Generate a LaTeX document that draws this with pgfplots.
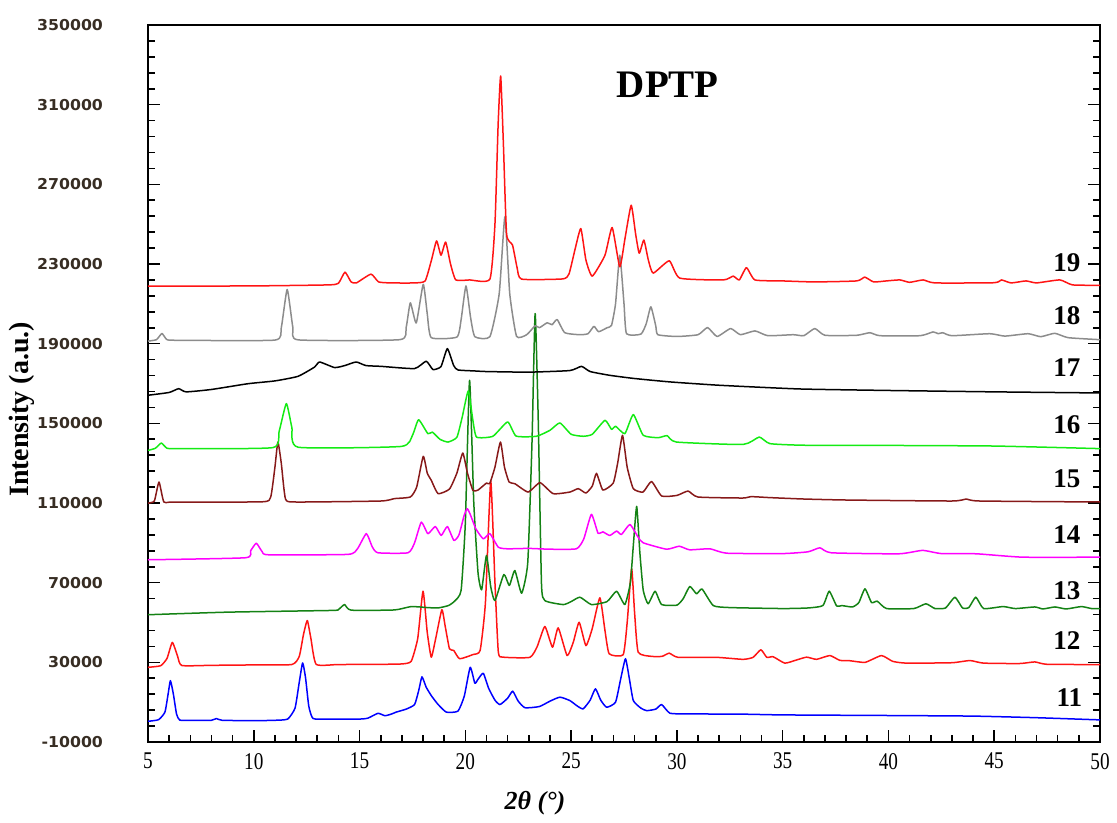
\documentclass[border=0pt]{standalone}
\usepackage{fontspec}
\setmainfont{Liberation Serif}
\newfontfamily\ytfont[FakeStretch=1.05]{DejaVu Sans}
\newfontfamily\xtfont[FakeStretch=0.8]{Liberation Serif}
\usepackage{pgfplots}
\pgfplotsset{compat=1.18}

\definecolor{cRed}{RGB}{255,20,20}
\definecolor{cGray}{RGB}{140,140,140}
\definecolor{cLime}{RGB}{20,235,20}
\definecolor{cBrown}{RGB}{135,25,25}
\definecolor{cMag}{RGB}{255,0,255}
\definecolor{cDkGreen}{RGB}{20,130,20}
\definecolor{cBlue}{RGB}{0,0,255}
\definecolor{tickcol}{RGB}{55,45,35}

\begin{document}
\begin{tikzpicture}
\useasboundingbox (-74pt,-40.5pt) rectangle (484.5pt,371pt);
\begin{axis}[
  at={(0,0)}, anchor=south west,
  scale only axis, width=476pt, height=358.5pt,
  xmin=5, xmax=50, ymin=-10000, ymax=350000,
  xtick={5,10,...,50}, minor x tick num=4,
  ytick={-10000,30000,...,350000}, minor y tick num=4,
  xtick pos=bottom, ytick pos=both,
  tick align=inside,
  major tick length=6pt, minor tick length=3.5pt,
  axis line style={line width=1pt},
  every tick/.style={black, line width=0.8pt},
  scaled y ticks=false,
  /pgf/number format/assume math mode=true,
  yticklabel style={/pgf/number format/fixed, /pgf/number format/1000 sep={},
    font=\ytfont\bfseries\fontsize{7.5}{9}\selectfont, text=tickcol, xshift=-19pt},
  xticklabel style={font=\xtfont\fontsize{12}{14}\selectfont, yshift=-2pt},
  ylabel={\textbf{Intensity (a.u.)}},
  ylabel style={at={(axis description cs:-0.1324,0.464)}, anchor=center,
    font=\fontsize{14}{16}\selectfont},
  xlabel={\textbf{\textit{2θ (°)}}},
  xlabel style={at={(axis description cs:0.4065,-0.085)}, anchor=center,
    font=\fontsize{13}{15}\selectfont},
  every axis plot/.append style={line width=0.75pt, line join=round, smooth, tension=0.3},
]
% 11
\addplot[cBlue] coordinates {(5.0,400) (5.5,1200) (5.8,5000) (5.95,14000) (6.06,20800) (6.2,14000) (6.35,4000) (6.5,1000) (7,800) (8.0,900) (8.23,1800) (8.5,900) (10,700) (11,900) (11.6,1500) (11.95,7000) (12.15,20000) (12.31,29700) (12.45,22000) (12.6,8000) (12.8,1800) (13.5,1500) (15,1500) (15.4,2000) (15.87,4400) (16.2,3200) (16.5,4000) (16.73,5000) (17.2,6500) (17.6,8800) (17.8,16000) (17.95,22700) (18.15,17500) (18.39,13300) (18.7,9000) (19.1,5000) (19.65,5500) (19.95,13000) (20.23,27500) (20.45,19500) (20.6,21500) (20.85,24500) (21.1,17000) (21.4,11000) (21.64,8800) (22.0,12000) (22.24,15500) (22.5,10500) (22.82,7200) (23.5,7800) (24.0,10500) (24.47,12500) (24.94,10800) (25.3,8000) (25.57,6650) (25.9,11000) (26.15,16700) (26.4,11000) (26.68,7450) (27.1,10000) (27.35,22000) (27.57,31800) (27.75,22000) (27.94,10800) (28.3,7000) (28.57,5750) (29.0,6500) (29.28,8800) (29.67,4450) (30.5,4100) (33,4000) (35,3600) (40,3300) (44,3000) (47,2200) (50,1100)};
% 12
\addplot[cRed] coordinates {(5,27500) (5.6,28300) (5.9,32000) (6.15,40000) (6.4,33000) (6.6,28400) (8,28500) (10,28700) (11.8,28900) (12.15,33000) (12.35,44000) (12.53,51000) (12.7,42000) (12.95,29000) (14,28900) (16,29000) (17.0,29200) (17.44,30500) (17.75,42000) (18.0,65700) (18.2,45000) (18.39,32600) (18.6,42000) (18.89,56400) (19.05,48000) (19.25,36800) (19.45,36000) (19.73,31800) (20.36,33900) (20.7,36000) (20.95,60000) (21.2,121000) (21.4,70000) (21.56,35100) (21.79,32600) (23.05,32500) (23.4,38000) (23.76,48000) (24.12,37600) (24.39,47300) (24.81,33400) (25.1,40000) (25.38,50100) (25.70,38400) (26.0,47000) (26.36,62400) (26.6,46000) (26.8,34300) (27.46,33800) (27.65,50000) (27.86,77000) (28.0,55000) (28.17,35100) (28.8,33000) (29.3,33000) (29.64,34600) (30.06,32500) (31.88,32500) (33.13,31500) (33.6,32500) (33.97,36300) (34.25,32500) (34.55,32800) (35.1,29600) (35.6,31000) (36.13,32600) (36.6,31500) (37.23,33400) (37.7,31000) (38.18,30800) (38.9,30000) (39.67,33400) (40.2,30500) (40.85,29600) (43.0,29800) (43.85,30900) (44.5,29600) (46.2,29400) (46.92,30200) (47.5,29000) (50,28900)};
% 13
\addplot[cDkGreen] coordinates {(5,53900) (8.78,55200) (13.66,56050) (14.0,56500) (14.29,59000) (14.6,56200) (16.65,56300) (17.44,58000) (18.2,57500) (18.71,57300) (19.2,58500) (19.49,60700) (19.8,66100) (20.0,100000) (20.2,171600) (20.4,110000) (20.6,75000) (20.77,66400) (21.0,83700) (21.2,68000) (21.4,61000) (21.82,74100) (22.08,68600) (22.34,76100) (22.66,64700) (22.95,80000) (23.15,140000) (23.3,205100) (23.45,150000) (23.6,69400) (23.76,61000) (24.63,59000) (25.0,60500) (25.42,62700) (25.96,59000) (26.7,60500) (27.15,65700) (27.54,59000) (27.8,70000) (27.95,90000) (28.1,108300) (28.25,85000) (28.41,66100) (28.64,59400) (28.97,65700) (29.28,59000) (30.0,58700) (30.3,62000) (30.61,68100) (30.93,64400) (31.19,66800) (31.72,58500) (32.5,57500) (35,57000) (36.2,57300) (36.9,58500) (37.2,65700) (37.55,58300) (37.8,58500) (38.3,57800) (38.6,60000) (38.89,66900) (39.2,60000) (39.47,60700) (39.91,57000) (41.2,57000) (41.77,59400) (42.2,57000) (42.7,57300) (43.14,62700) (43.5,57300) (43.8,57500) (44.13,62700) (44.5,57000) (45.42,58000) (46.0,57000) (46.92,57800) (47.3,56800) (47.87,57800) (48.4,56800) (49.12,58000) (49.6,57000) (50,57000)};
% 14
\addplot[cMag] coordinates {(5,81500) (9.6,82500) (9.85,86000) (10.12,89800) (10.4,85500) (10.7,84000) (14.45,84200) (14.9,87000) (15.32,94600) (15.6,88000) (15.87,85000) (17.29,85000) (17.6,90000) (17.92,100400) (18.23,94600) (18.58,98200) (18.86,93700) (19.15,98200) (19.46,91200) (19.7,94000) (19.95,104000) (20.09,107100) (20.22,104600) (20.5,97000) (20.85,92000) (21.16,94600) (21.56,87800) (22,87000) (23,87200) (24,86800) (25.25,87000) (25.6,92000) (25.96,104300) (26.27,94900) (26.5,95500) (26.83,93700) (27.15,95900) (27.38,94200) (27.78,99200) (28.17,92800) (28.41,90000) (29.51,86800) (30.11,88300) (30.6,86500) (31.56,87000) (32.35,84800) (35,84600) (36.2,85500) (36.76,87500) (37.3,85000) (40.5,84500) (41.61,86200) (42.5,84600) (44.15,84500) (46.35,82800) (50,82800)};
% 15
\addplot[cBrown] coordinates {(5,109950) (5.3,111000) (5.52,120500) (5.75,110500) (6.2,110500) (10.4,110600) (10.8,113000) (11.0,128000) (11.14,140600) (11.3,130000) (11.5,112000) (12.0,110500) (16.0,111000) (16.65,112200) (17.4,113000) (17.7,118000) (18.01,133400) (18.2,125000) (18.39,121400) (18.71,114700) (19.25,117000) (19.6,125000) (19.88,135100) (20.1,125000) (20.36,116300) (20.6,116500) (21.0,120000) (21.15,119700) (21.4,128000) (21.66,140600) (21.85,128000) (22.07,120500) (22.34,119700) (22.97,115500) (23.53,120200) (24.15,114700) (24.94,115500) (25.34,117200) (25.7,115000) (26.0,118500) (26.2,124900) (26.5,116500) (26.99,120000) (27.2,130000) (27.43,144000) (27.65,128000) (27.94,117200) (28.4,115500) (28.8,120800) (29.28,113500) (30.0,113800) (30.53,116000) (31.0,113000) (33.12,112500) (33.5,113200) (34.4,112700) (36,112000) (38,111500) (43.0,111000) (43.69,112000) (44.3,111000) (50,110500)};
% 16
\addplot[cLime] coordinates {(5,136400) (5.35,137500) (5.63,140100) (5.9,137500) (6.5,137300) (10.9,137800) (11.2,146000) (11.54,159900) (11.8,148000) (12.1,138000) (16.97,138400) (17.5,144000) (17.79,151800) (18.23,144800) (18.44,145600) (18.8,142000) (19.18,140600) (19.6,143000) (19.85,153000) (20.14,166300) (20.35,152000) (20.53,143100) (21.3,143500) (22.0,150700) (22.4,143600) (23.36,143500) (24.0,146500) (24.47,150200) (25.0,144500) (25.57,143500) (26.0,144500) (26.6,151500) (26.91,147000) (27.11,148500) (27.54,144800) (27.94,154400) (28.41,144000) (29.12,142800) (29.54,143800) (29.98,140600) (33.13,139400) (33.89,143100) (34.4,139800) (36,139000) (40,138900) (45,138600) (50,137300)};
% 17
\addplot[black] coordinates {(5,164100) (6.0,165500) (6.45,167400) (6.8,165800) (8.0,167000) (9.73,169900) (11.0,171300) (12.09,173600) (12.88,178300) (13.11,180800) (13.82,178000) (14.3,179000) (14.84,180800) (15.3,179000) (16.03,178600) (17.6,177500) (18.15,181200) (18.47,177000) (18.85,178500) (19.15,187500) (19.45,179000) (19.65,176800) (20.44,176300) (21,176000) (23,175700) (24.94,176500) (25.49,178600) (25.9,176000) (26.83,174100) (28,172500) (29.67,170800) (32.03,169100) (35.81,167250) (40,166500) (45,165800) (50,165250)};
% 18
\addplot[cGray] coordinates {(5,191300) (5.4,192000) (5.66,195100) (5.9,192000) (6.5,191700) (11.0,191800) (11.3,198000) (11.58,217200) (11.85,198000) (12.1,191900) (16.9,192000) (17.2,198000) (17.40,210500) (17.68,200400) (18.01,219800) (18.2,205000) (18.39,193000) (19.6,193300) (19.8,202000) (20.03,219000) (20.25,203000) (20.45,193500) (21.16,193500) (21.6,215000) (21.87,253700) (22.1,215000) (22.42,193700) (22.9,194500) (23.3,199000) (23.5,198000) (23.87,200500) (24.1,199500) (24.34,202100) (24.7,195500) (25.4,194500) (25.8,195000) (26.08,198700) (26.3,196000) (26.7,198000) (26.91,199200) (27.1,210000) (27.3,234400) (27.5,210000) (27.62,195000) (28.3,194800) (28.55,200000) (28.77,208500) (29.0,199000) (29.1,194500) (30.0,193600) (31.0,194500) (31.45,198100) (31.9,193600) (32.54,197600) (33.0,194500) (33.69,196400) (34.3,194000) (35.5,194500) (36.0,194000) (36.52,197600) (37.0,194200) (38.5,194200) (39.12,195500) (39.6,194000) (41.5,194000) (42.11,195900) (42.35,195000) (42.57,195500) (43.0,194000) (44.79,195000) (45.5,193800) (46.6,195000) (47.2,193500) (47.86,195200) (48.5,193000) (50,192000)};
% 19
\addplot[cRed] coordinates {(5,218850) (10,219000) (13.5,219500) (14.0,220300) (14.31,225900) (14.6,221000) (14.85,220500) (15.54,224900) (15.9,221000) (16.5,220500) (17.6,220500) (18.1,221500) (18.4,232000) (18.64,241600) (18.85,234400) (19.07,241000) (19.3,230000) (19.55,222000) (20.2,222000) (21.16,222400) (21.4,250000) (21.55,300000) (21.67,324400) (21.8,290000) (21.95,245000) (22.23,239500) (22.45,228000) (22.66,222400) (24.6,222500) (24.9,225000) (25.2,238000) (25.46,247800) (25.7,232000) (26.0,223900) (26.6,234400) (26.94,248300) (27.3,228600) (27.55,243000) (27.84,259500) (28.05,245000) (28.22,235400) (28.44,242000) (28.65,232000) (28.88,225400) (29.64,231600) (30.14,222900) (32.2,222000) (32.66,223900) (32.95,222000) (33.29,228200) (33.69,222000) (35,221500) (36.5,221000) (38.5,221500) (38.88,223400) (39.3,221000) (39.9,221500) (40.54,222000) (41.0,220800) (41.64,222000) (42.2,220500) (45.0,220600) (45.34,222000) (45.8,220500) (46.5,221500) (47.0,220500) (48.1,222000) (48.7,219500) (50,219300)};

\node[font=\bfseries\fontsize{19.5}{22}\selectfont] at (axis cs:29.57,319850) {DPTP};
\begin{scope}[every node/.style={font=\bfseries\fontsize{13.5}{15}\selectfont}]
\node at (axis cs:48.43,230900) {19};
\node at (axis cs:48.43,204300) {18};
\node at (axis cs:48.43,178150) {17};
\node at (axis cs:48.43,149500) {16};
\node at (axis cs:48.43,122400) {15};
\node at (axis cs:48.43,94200) {14};
\node at (axis cs:48.43,66100) {13};
\node at (axis cs:48.43,40950) {12};
\node at (axis cs:48.55,12350) {11};
\end{scope}
\end{axis}
\end{tikzpicture}
\end{document}
